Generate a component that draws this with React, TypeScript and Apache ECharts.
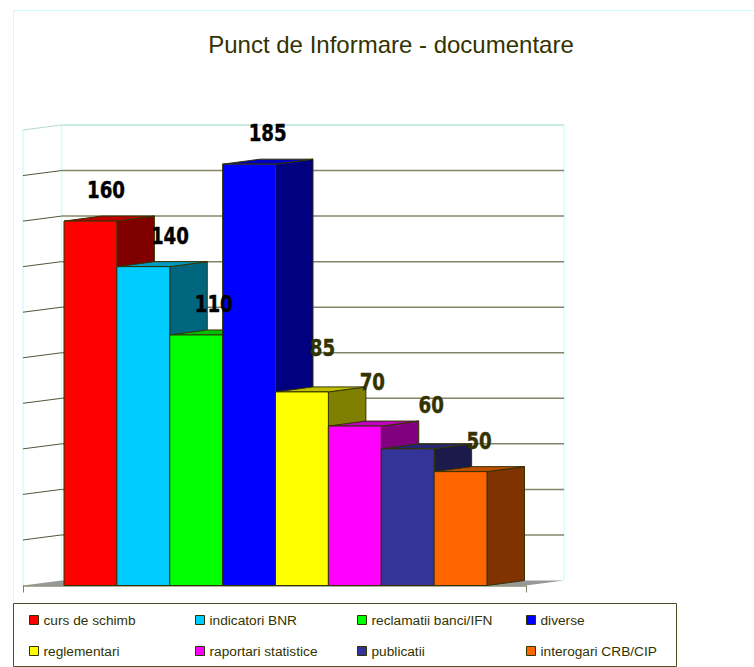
import React, { useEffect, useRef } from "react";
import * as echarts from "echarts";

const categories = ["curs de schimb", "indicatori BNR", "reclamatii banci/IFN", "diverse", "reglementari", "raportari statistice", "publicatii", "interogari CRB/CIP"];
const values = [160, 140, 110, 185, 85, 70, 60, 50];
const ticks = [0, 20, 40, 60, 80, 100, 120, 140, 160, 180, 200];
const frontColors = ["#FF0000", "#00CCFF", "#00FF00", "#0000FF", "#FFFF00", "#FF00FF", "#333399", "#FF6600"];
const topColors = ["#BF0000", "#0099BF", "#00BF00", "#0000BF", "#BFBF00", "#BF00BF", "#262673", "#BF4D00"];
const sideColors = ["#800000", "#006680", "#008000", "#000080", "#808000", "#800080", "#1A1A4D", "#803300"];
const labelColors = ["#000", "#000", "#000", "#000", "#333300", "#333300", "#333300", "#333300"];
const labelDx = [42, 53, 44, 45, 47, 44, 50, 45];
const labelDy = [-31, -31, -31, -31, -44, -44, -44, -31];
const legendX = [29, 195, 357, 526, 29, 195, 357, 526];
const legendY = [613, 613, 613, 613, 644, 644, 644, 644];

const DX = 37.5;
const DY = -5;
const EDGE = "#333300";
const GRID_LEFT = 64;
const GRID_WIDTH = 423;
const WALL_LEFT = 23;
const WALL_RIGHT = 526;

function wallItem(params: any, api: any) {
  const y = api.coord([0, api.value(1)])[1];
  const idx = params.dataIndex;
  const backL = WALL_LEFT + DX + 1;
  const backR = WALL_RIGHT + DX + 0.5;
  const children: any[] = [];
  if (idx === 0) {
    children.push({
      type: "polygon",
      shape: { points: [[WALL_LEFT, y], [backL, y + DY], [backR, y + DY], [WALL_RIGHT, y]] },
      style: { fill: "#999999", stroke: "none" },
    });
    const top = api.coord([0, 200])[1];
    children.push(
      { type: "line", shape: { x1: WALL_LEFT, y1: y, x2: WALL_LEFT, y2: top }, style: { stroke: "#CCFFFF", lineWidth: 1.5 } },
      { type: "line", shape: { x1: backL, y1: y + DY, x2: backL, y2: top + DY }, style: { stroke: "#CCFFFF", lineWidth: 1.5 } },
      { type: "line", shape: { x1: backR, y1: y + DY, x2: backR, y2: top + DY }, style: { stroke: "#CCFFFF", lineWidth: 1.5 } },
      { type: "line", shape: { x1: WALL_LEFT, y1: y + 0.5, x2: WALL_RIGHT, y2: y + 0.5 }, style: { stroke: "#5c5c3a", lineWidth: 1 } },
      { type: "line", shape: { x1: WALL_LEFT + 0.5, y1: y, x2: WALL_LEFT + 0.5, y2: y + 7 }, style: { stroke: "#808066", lineWidth: 1 } },
      { type: "line", shape: { x1: WALL_RIGHT + 0.5, y1: y, x2: WALL_RIGHT + 0.5, y2: y + 7 }, style: { stroke: "#808066", lineWidth: 1 } }
    );
  } else {
    const isTop = api.value(1) === 200;
    const stroke = isTop ? "#B8E6DE" : "#84846A";
    children.push(
      { type: "line", shape: { x1: backL, y1: y + DY, x2: backR, y2: y + DY }, style: { stroke, lineWidth: 1.5 } },
      { type: "line", shape: { x1: WALL_LEFT, y1: y, x2: backL, y2: y + DY }, style: { stroke: isTop ? "#B8D8D0" : "#55553a", lineWidth: 1 } }
    );
  }
  return { type: "group", children };
}

function barItem(i: number) {
  return (_params: any, api: any) => {
    const p = api.coord([api.value(0), api.value(1)]);
    const base = api.coord([api.value(0), 0])[1];
    const w = api.size([1, 0])[0];
    const x0 = p[0] - w / 2;
    const x1 = p[0] + w / 2;
    const y = p[1];
    const edge = { stroke: EDGE, lineWidth: 1, lineJoin: "round" };
    return {
      type: "group",
      children: [
        { type: "polygon", z2: 1, shape: { points: [[x1, y], [x1 + DX, y + DY], [x1 + DX, base + DY], [x1, base]] }, style: { fill: sideColors[i], ...edge } },
        { type: "polygon", z2: 1, shape: { points: [[x0, y], [x0 + DX, y + DY], [x1 + DX, y + DY], [x1, y]] }, style: { fill: topColors[i], ...edge } },
        { type: "polygon", z2: 1, shape: { points: [[x0, y], [x1, y], [x1, base], [x0, base]] }, style: { fill: frontColors[i], ...edge } },
        {
          type: "text",
          z2: 100,
          x: x0 + labelDx[i],
          y: y + labelDy[i],
          scaleX: 0.88,
          style: {
            text: String(values[i]),
            fontFamily: "DejaVu Sans Condensed",
            fontWeight: "bold",
            fontSize: 23,
            fill: labelColors[i],
            stroke: labelColors[i],
            lineWidth: 0.4,
            align: "center",
            verticalAlign: "middle",
          },
        },
      ],
    };
  };
}

export default function App() {
  const ref = useRef<HTMLDivElement>(null);
  useEffect(() => {
    const chart = echarts.init(ref.current!, undefined, { renderer: "svg" });
    chart.setOption({
      animation: false,
      backgroundColor: "#fff",
      title: {
        text: "Punct de Informare - documentare",
        left: 386,
        top: 27,
        textAlign: "center",
        textStyle: { fontFamily: "Liberation Sans", fontWeight: "normal", fontSize: 24, color: "#333300" },
      },
      grid: { left: GRID_LEFT, width: GRID_WIDTH, top: 130, height: 455.5 },
      xAxis: { type: "category", data: categories, show: false },
      yAxis: { type: "value", min: 0, max: 200, interval: 20, show: false },
      legend: categories.map((c, i) => ({
        data: [c],
        left: legendX[i],
        top: legendY[i],
        itemWidth: 9,
        itemHeight: 9,
        icon: "rect",
        padding: 0,
        selectedMode: false,
        itemStyle: { borderColor: EDGE, borderWidth: 1 },
        textStyle: { fontFamily: "Liberation Sans", fontSize: 13.7, color: "#333300" },
      })),
      graphic: [
        { type: "line", silent: true, shape: { x1: 13.5, y1: 10, x2: 13.5, y2: 603 }, style: { stroke: "#CCFFFF", lineWidth: 1 } },
        { type: "line", silent: true, shape: { x1: 13, y1: 10.5, x2: 754, y2: 10.5 }, style: { stroke: "#CCFFFF", lineWidth: 1 } },
        { type: "rect", silent: true, shape: { x: 13.5, y: 603.5, width: 663, height: 63 }, style: { fill: "none", stroke: "#4d4d26", lineWidth: 1 } },
      ],
      series: [
        {
          type: "custom",
          name: "walls",
          coordinateSystem: "cartesian2d",
          clip: false,
          silent: true,
          renderItem: wallItem,
          encode: { x: 0, y: 1 },
          data: ticks.map((t) => [0, t]),
          z: 1,
        },
        ...categories.map((c, i) => ({
          type: "custom",
          name: c,
          coordinateSystem: "cartesian2d",
          clip: false,
          renderItem: barItem(i),
          encode: { x: 0, y: 1 },
          itemStyle: { color: frontColors[i] },
          data: [[i, values[i]]],
          z: 2,
        })),
      ],
    });
    return () => chart.dispose();
  }, []);
  return <div ref={ref} style={{ position: "absolute", left: 0, top: 0, width: 754, height: 667 }} />;
}
